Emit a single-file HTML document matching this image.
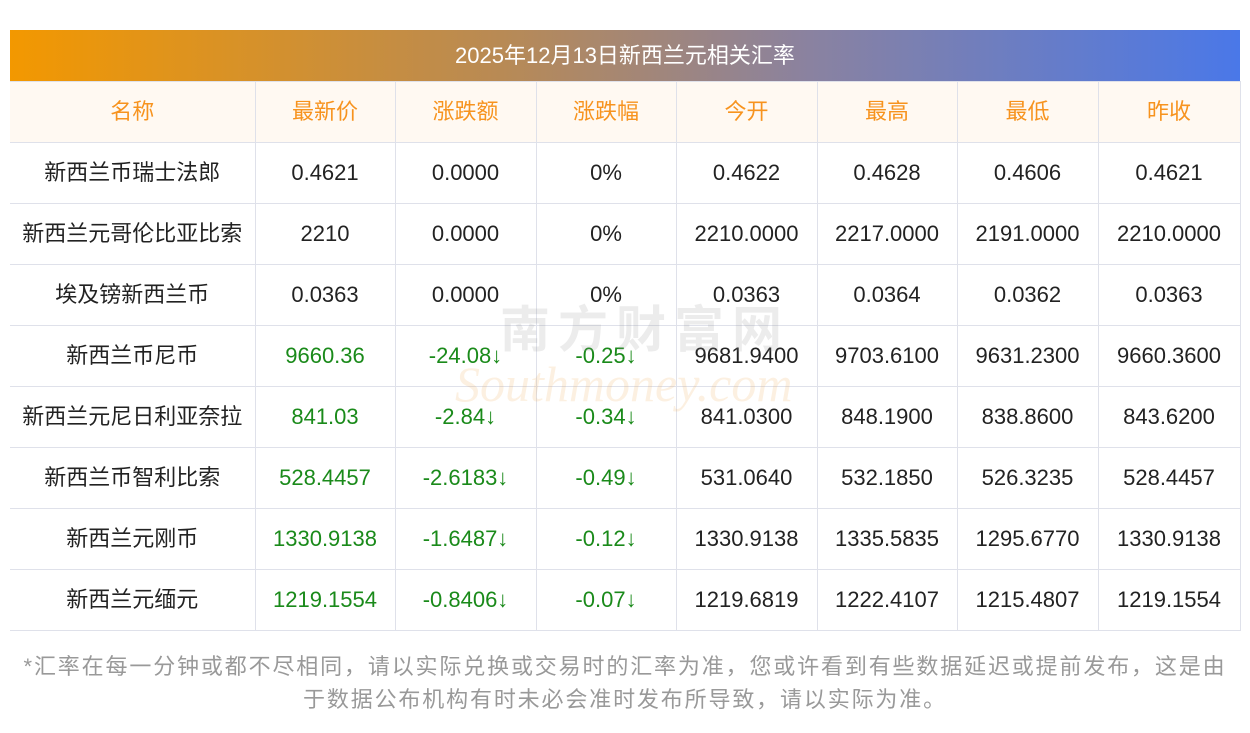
<!DOCTYPE html>
<html><head><meta charset="utf-8"><style>
body{margin:0;width:1250px;height:733px;background:#fff;font-family:"Liberation Sans","Noto Sans CJK SC",sans-serif;overflow:hidden}
.title{position:absolute;left:10px;top:30px;width:1230px;height:51px;background:linear-gradient(90deg,#f39800,#b88a55 40%,#8a82a0 65%,#4a78e8);color:#fff;font-size:22px;line-height:51px;text-align:center}
table{position:absolute;left:10px;top:81px;width:1230px;border-collapse:collapse;table-layout:fixed}
td{height:60px;border:1px solid #dfe1ea;text-align:center;font-size:22px;line-height:24px;color:#222;padding:0;white-space:nowrap;vertical-align:middle}
tr td:first-child{border-left:none}
tr.h td{background:#fff9f2;color:#f7931e;height:60px}
.g{color:#1a8a1a}
.foot{position:absolute;left:0px;top:650px;width:1250px;text-align:center;color:#999;font-size:22px;line-height:33px;letter-spacing:1.85px}
.wm1{position:absolute;left:500px;top:290px;font-size:50px;color:rgba(150,150,150,0.18);letter-spacing:8px;font-weight:bold}
.wm2{position:absolute;left:455px;top:355px;font-size:50px;font-style:italic;color:rgba(240,170,90,0.18);font-family:"Liberation Serif",serif}
</style></head><body>
<div class="title">2025年12月13日新西兰元相关汇率</div>
<table>
<colgroup><col style="width:245px"><col style="width:140px"><col style="width:141px"><col style="width:140px"><col style="width:141px"><col style="width:140px"><col style="width:141px"><col style="width:142px"></colgroup>
<tr class="h"><td>名称</td><td>最新价</td><td>涨跌额</td><td>涨跌幅</td><td>今开</td><td>最高</td><td>最低</td><td>昨收</td></tr>
<tr><td>新西兰币瑞士法郎</td><td>0.4621</td><td>0.0000</td><td>0%</td><td>0.4622</td><td>0.4628</td><td>0.4606</td><td>0.4621</td></tr>
<tr><td>新西兰元哥伦比亚比索</td><td>2210</td><td>0.0000</td><td>0%</td><td>2210.0000</td><td>2217.0000</td><td>2191.0000</td><td>2210.0000</td></tr>
<tr><td>埃及镑新西兰币</td><td>0.0363</td><td>0.0000</td><td>0%</td><td>0.0363</td><td>0.0364</td><td>0.0362</td><td>0.0363</td></tr>
<tr><td>新西兰币尼币</td><td class="g">9660.36</td><td class="g">-24.08↓</td><td class="g">-0.25↓</td><td>9681.9400</td><td>9703.6100</td><td>9631.2300</td><td>9660.3600</td></tr>
<tr><td>新西兰元尼日利亚奈拉</td><td class="g">841.03</td><td class="g">-2.84↓</td><td class="g">-0.34↓</td><td>841.0300</td><td>848.1900</td><td>838.8600</td><td>843.6200</td></tr>
<tr><td>新西兰币智利比索</td><td class="g">528.4457</td><td class="g">-2.6183↓</td><td class="g">-0.49↓</td><td>531.0640</td><td>532.1850</td><td>526.3235</td><td>528.4457</td></tr>
<tr><td>新西兰元刚币</td><td class="g">1330.9138</td><td class="g">-1.6487↓</td><td class="g">-0.12↓</td><td>1330.9138</td><td>1335.5835</td><td>1295.6770</td><td>1330.9138</td></tr>
<tr><td>新西兰元缅元</td><td class="g">1219.1554</td><td class="g">-0.8406↓</td><td class="g">-0.07↓</td><td>1219.6819</td><td>1222.4107</td><td>1215.4807</td><td>1219.1554</td></tr>
</table>
<div class="wm1">南方财富网</div>
<div class="wm2">Southmoney.com</div>
<div class="foot">*汇率在每一分钟或都不尽相同，请以实际兑换或交易时的汇率为准，您或许看到有些数据延迟或提前发布，这是由<br>于数据公布机构有时未必会准时发布所导致，请以实际为准。</div>
</body></html>
